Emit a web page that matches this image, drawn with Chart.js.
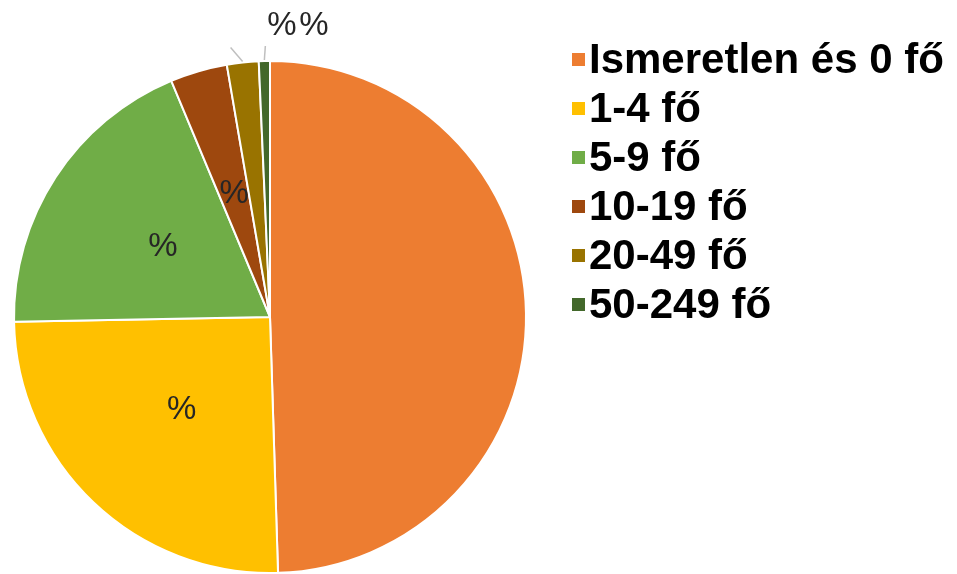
<!DOCTYPE html>
<html>
<head>
<meta charset="utf-8">
<script src="https://cdn.jsdelivr.net/npm/chart.js@4"></script>
<style>
  html, body { margin: 0; padding: 0; background: #fff; }
  #wrap { width: 957px; height: 574px; }
</style>
</head>
<body>
<div id="wrap"><canvas id="ChartSize"></canvas></div>
<script>
// Data
const categories = [
  "Ismeretlen és 0 fő",
  "1-4 fő",
  "5-9 fő",
  "10-19 fő",
  "20-49 fő",
  "50-249 fő",
];
const shares = [49.5, 25.2, 19.0, 3.6, 2.0, 0.7];
const labelTexts = ["", "%", "%", "%", "%", "%"];
const colors = ["#ED7D31", "#FFC000", "#70AD47", "#9E480E", "#997300", "#43682B"];
// End data

// slices that get their label above the pie, with a leader line
const outsideLabels = [4, 5];
const leaderTips = { 4: [-12, -14], 5: [1, -14] };

// Data labels
const pieLabels = {
  id: "pieLabels",
  afterDatasetsDraw(chart) {
    const ctx = chart.ctx;
    const arcs = chart.getDatasetMeta(0).data;
    ctx.save();
    ctx.font = "33px 'Liberation Sans', Arial, sans-serif";
    ctx.fillStyle = "#262626";
    ctx.textAlign = "center";
    ctx.textBaseline = "middle";

    arcs.forEach((arc, i) => {
      const text = labelTexts[i];
      if (!text) return;
      const { x, y, startAngle, endAngle, outerRadius } = arc.getProps(
        ["x", "y", "startAngle", "endAngle", "outerRadius"],
        true
      );
      const mid = (startAngle + endAngle) / 2;

      if (outsideLabels.includes(i)) {
        const k = outsideLabels.indexOf(i);
        const sx = x + Math.cos(mid) * (outerRadius + 1);
        const sy = y + Math.sin(mid) * (outerRadius + 1);
        const tip = leaderTips[i];
        ctx.strokeStyle = "#BFBFBF";
        ctx.lineWidth = 1.5;
        ctx.beginPath();
        ctx.moveTo(sx, sy);
        ctx.lineTo(sx + tip[0], sy + tip[1]);
        ctx.stroke();
        ctx.fillText(text, x + 12 + k * 32, chart.chartArea.top - 34);
      } else {
        const p = arc.tooltipPosition(true);
        ctx.fillText(text, p.x, p.y);
      }
    });
    ctx.restore();
  },
};

// Legend
const sideLegend = {
  id: "sideLegend",
  afterDraw(chart) {
    const ctx = chart.ctx;
    const left = 572;
    const firstBaseline = 73;
    const step = 49;
    ctx.save();
    ctx.font = "bold 42px 'Liberation Sans', Arial, sans-serif";
    ctx.textBaseline = "alphabetic";
    ctx.textAlign = "left";
    chart.data.labels.forEach((label, i) => {
      const base = firstBaseline + i * step;
      ctx.fillStyle = chart.data.datasets[0].backgroundColor[i];
      ctx.fillRect(left, base - 20, 13, 13);
      ctx.fillStyle = "#000";
      ctx.fillText(label, left + 17, base);
    });
    ctx.restore();
  },
};

const ChartSize = document.getElementById("ChartSize");

new Chart(ChartSize, {
  type: "pie",
  data: {
    labels: categories,
    datasets: [
      {
        label: "Arány",
        data: shares,
        backgroundColor: colors,
        borderColor: "#fff",
        borderWidth: 2,
      },
    ],
  },
  options: {
    responsive: true,
    maintainAspectRatio: false,
    animation: false,
    layout: {
      padding: { top: 60, left: 13, bottom: 0, right: 430 },
    },
    plugins: {
      legend: { display: false },
      tooltip: { enabled: false },
    },
  },
  plugins: [pieLabels, sideLegend],
});
</script>
</body>
</html>
